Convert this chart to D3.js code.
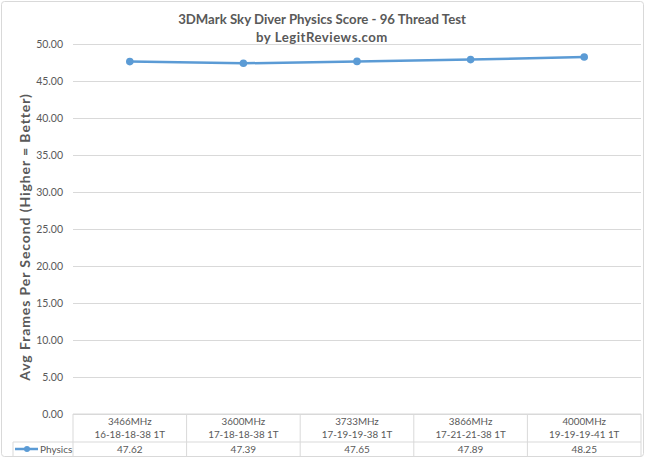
<!DOCTYPE html>
<html><head><meta charset="utf-8">
<script src="https://cdn.jsdelivr.net/npm/d3@7"></script>
<style>body{margin:0;background:#fff;} svg{display:block;font-family:Lato,"Open Sans",sans-serif;}</style>
</head><body>
<svg id="c" width="645" height="458"></svg>
<script>
const categories = ["3466MHz|16-18-18-38 1T","3600MHz|17-18-18-38 1T","3733MHz|17-19-19-38 1T","3866MHz|17-21-21-38 1T","4000MHz|19-19-19-41 1T"];
const seriesName = "Physics";
const values = [47.62, 47.39, 47.65, 47.89, 48.25];
const yTicks = [0,5,10,15,20,25,30,35,40,45,50];
const titleLines = ["3DMark Sky Diver Physics Score - 96 Thread Test","by LegitReviews.com"];
const yTitle = "Avg Frames Per Second (Higher = Better)";

(function(){
const svg = d3.select("#c");
const W=645,H=458;
const pL=73,pR=641,pT=44,pB=414;
const txt="#595959", grid="#d9d9d9", blue="#5b9bd5";

svg.append("rect").attr("x",1.5).attr("y",1.5).attr("width",W-3).attr("height",H-3).attr("rx",3)
  .attr("fill","#fff").attr("stroke","#d9d9d9");

const x = d3.scaleBand().domain(d3.range(categories.length)).range([pL,pR]);
const y = d3.scaleLinear().domain([0,50]).range([pB,pT]);

svg.append("text").attr("x",322).attr("y",24).attr("text-anchor","middle").attr("font-size",13.2).attr("font-weight","bold").attr("fill",txt)
  .selectAll("tspan").data(titleLines).join("tspan").attr("x",322).attr("dy",(d,i)=>i?18:0)
  .attr("letter-spacing",(d,i)=>i?0.5:0).text(d=>d);

const yAxis = d3.axisLeft(y).tickValues(yTicks).tickFormat(d3.format(".2f")).tickSize(-(pR-pL)).tickPadding(10);
const ga = svg.append("g").attr("transform",`translate(${pL},0)`).call(yAxis);
ga.select(".domain").remove();
ga.selectAll(".tick line").attr("stroke",grid);
ga.selectAll(".tick text").attr("fill",txt).attr("font-size",10.5).attr("font-family","Lato,sans-serif");

svg.append("text").attr("transform",`translate(25,237) rotate(-90)`).attr("text-anchor","middle").attr("dy","0.35em")
  .attr("font-size",14).attr("letter-spacing",0.9).attr("font-weight","bold").attr("fill",txt).text(yTitle);

const r1=pB, r2=442, r3=456.5, lx=13;
const tg = svg.append("g").attr("stroke",grid).attr("fill","none");
tg.append("line").attr("x1",pL).attr("x2",pR).attr("y1",r1).attr("y2",r1);
tg.append("line").attr("x1",lx).attr("x2",pR).attr("y1",r2).attr("y2",r2);
tg.append("line").attr("x1",lx).attr("x2",pR).attr("y1",r3).attr("y2",r3);
tg.append("line").attr("x1",lx).attr("x2",lx).attr("y1",r2).attr("y2",r3);
d3.range(categories.length+1).forEach(i=>{
  const xx = i<categories.length ? x(i) : pR;
  tg.append("line").attr("x1",xx).attr("x2",xx).attr("y1",r1).attr("y2",r3);
});
categories.forEach((c,i)=>{
  const parts=c.split("|");
  const t = svg.append("text").attr("text-anchor","middle").attr("font-size",9.8).attr("fill",txt);
  t.append("tspan").attr("x",x(i)+x.bandwidth()/2).attr("y",425).text(parts[0]);
  t.append("tspan").attr("x",x(i)+x.bandwidth()/2).attr("y",438).text(parts[1]);
});
values.forEach((v,i)=>{
  svg.append("text").attr("x",x(i)+x.bandwidth()/2).attr("y",452.5).attr("text-anchor","middle").attr("font-size",10).attr("fill",txt).text(v.toFixed(2));
});
svg.append("line").attr("x1",15).attr("x2",38).attr("y1",449).attr("y2",449).attr("stroke",blue).attr("stroke-width",2.5);
svg.append("circle").attr("cx",27).attr("cy",449).attr("r",3).attr("fill",blue);
svg.append("text").attr("x",40).attr("y",452.5).attr("font-size",10).attr("fill",txt).text(seriesName);

const line = d3.line().x((d,i)=>x(i)+x.bandwidth()/2).y(d=>y(d));
svg.append("path").datum(values).attr("d",line).attr("fill","none").attr("stroke",blue).attr("stroke-width",2.5);
svg.selectAll("circle.pt").data(values).join("circle").attr("class","pt")
  .attr("cx",(d,i)=>x(i)+x.bandwidth()/2).attr("cy",d=>y(d)).attr("r",3.8).attr("fill",blue);
})();
</script>
</body></html>
